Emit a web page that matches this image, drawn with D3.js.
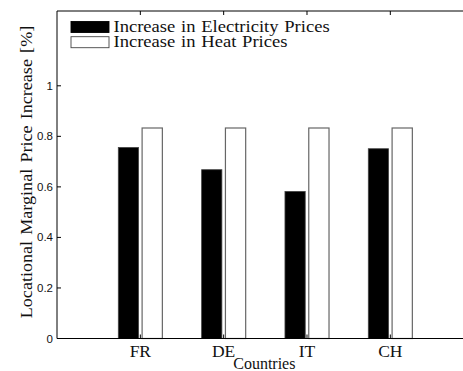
<!DOCTYPE html>
<html><head><meta charset="utf-8">
<script src="https://cdn.jsdelivr.net/npm/d3@7"></script>
<style>html,body{margin:0;padding:0;background:#fff;overflow:hidden}</style>
</head><body>
<svg id="chart" width="463" height="371"></svg>
<script>
const categories = ["FR", "DE", "IT", "CH"];
const electricity = [0.756, 0.668, 0.582, 0.751];
const heat = [0.833, 0.833, 0.833, 0.833];
const yTicks = [0, 0.2, 0.4, 0.6, 0.8, 1];
const yTickLabels = ["0", "0.2", "0.4", "0.6", "0.8", "1"];
const seriesNames = ["Increase in Electricity Prices", "Increase in Heat Prices"];

const svg = d3.select("#chart");
const plotLeft = 57, plotTop = 11, plotBottom = 338.5;
const x = d3.scaleLinear().domain([0, 5]).range([plotLeft, plotLeft + 5 * 83.33]);
const y = d3.scaleLinear().domain([0, 1.3]).range([plotBottom, plotBottom - 1.3 * 252.7]);
const serif = "Liberation Serif, Times New Roman, serif";

const offset = 0.1428, bw = 0.243;
const g = svg.append("g");

// bars
categories.forEach((c, i) => {
  const cx = i + 1;
  g.append("rect")
    .attr("x", x(cx - offset - bw / 2)).attr("width", x(bw) - x(0))
    .attr("y", y(electricity[i])).attr("height", y(0) - y(electricity[i]))
    .attr("fill", "#000").attr("stroke", "#444").attr("stroke-width", 0.8);
  g.append("rect")
    .attr("x", x(cx + offset - bw / 2)).attr("width", x(bw) - x(0))
    .attr("y", y(heat[i])).attr("height", y(0) - y(heat[i]))
    .attr("fill", "#fff").attr("stroke", "#666").attr("stroke-width", 1.2);
});

// axes lines
const plotRight = x(5);
g.append("line").attr("x1", plotLeft).attr("x2", plotRight).attr("y1", plotBottom).attr("y2", plotBottom).attr("stroke", "#000").attr("stroke-width", 1);
g.append("line").attr("x1", plotLeft).attr("x2", plotRight).attr("y1", plotTop).attr("y2", plotTop).attr("stroke", "#000").attr("stroke-width", 1);
g.append("line").attr("x1", plotLeft).attr("x2", plotLeft).attr("y1", plotTop).attr("y2", plotBottom).attr("stroke", "#000").attr("stroke-width", 1);

// y ticks
yTicks.forEach((t, i) => {
  g.append("line").attr("x1", plotLeft).attr("x2", plotLeft + 4).attr("y1", y(t)).attr("y2", y(t)).attr("stroke", "#000");
  g.append("text").attr("x", plotLeft - 4).attr("y", y(t)).attr("dy", "0.35em")
    .attr("text-anchor", "end").attr("font-family", "Liberation Sans, Arial, sans-serif")
    .attr("font-size", 11.5).attr("fill", "#111").text(yTickLabels[i]);
});

// x ticks
categories.forEach((c, i) => {
  const px = x(i + 1);
  g.append("line").attr("x1", px).attr("x2", px).attr("y1", plotBottom).attr("y2", plotBottom - 4).attr("stroke", "#000");
  g.append("line").attr("x1", px).attr("x2", px).attr("y1", plotTop).attr("y2", plotTop + 4).attr("stroke", "#000");
  g.append("text").attr("x", px).attr("y", 357).attr("text-anchor", "middle")
    .attr("font-family", serif).attr("font-size", 17.5)
    .attr("fill", "#111").text(c);
});

// axis titles
svg.append("text").attr("x", x(2.5) - 1).attr("y", 369).attr("text-anchor", "middle")
  .attr("font-family", serif).attr("font-size", 16)
  .attr("fill", "#111").text("Countries");
svg.append("text").attr("transform", "translate(32,172) rotate(-90) scale(1.13,1)").attr("text-anchor", "middle")
  .attr("font-family", serif).attr("font-size", 16)
  .attr("fill", "#111").attr("word-spacing", 1.5).text("Locational Marginal Price Increase [%]");

// legend
const leg = svg.append("g");
const fills = ["#000", "#fff"];
seriesNames.forEach((n, i) => {
  const yy = 21.5 + i * 15.2;
  leg.append("rect").attr("x", 71).attr("y", yy).attr("width", 38).attr("height", 11)
    .attr("fill", fills[i]).attr("stroke", i === 0 ? "#000" : "#444").attr("stroke-width", 0.9);
  leg.append("text").attr("transform", `translate(113.5,${yy + 10}) scale(1.16,1)`).attr("font-family", serif)
    .attr("font-size", 16).attr("word-spacing", 1).attr("fill", "#111").text(n);
});
</script>
</body></html>
